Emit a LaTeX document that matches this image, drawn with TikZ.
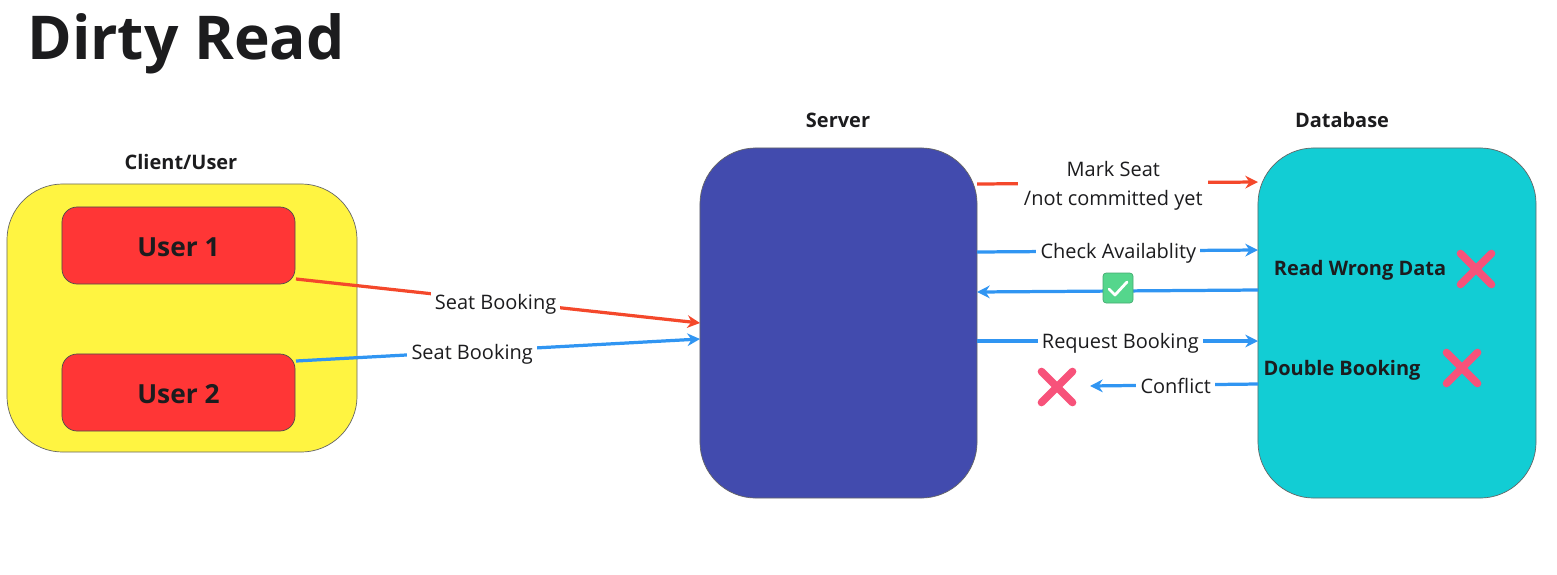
\documentclass[tikz,border=0pt]{standalone}
\usepackage{fontspec}
\setmainfont{Open Sans}
\usetikzlibrary{arrows.meta,shapes.misc}
\definecolor{inkgrey}{HTML}{1C1C1E}
\definecolor{clientyellow}{HTML}{FFF441}
\definecolor{userred}{HTML}{FF3636}
\definecolor{serverblue}{HTML}{424BAE}
\definecolor{dbcyan}{HTML}{12CDD4}
\definecolor{flowred}{HTML}{F4482B}
\definecolor{flowblue}{HTML}{3095F2}
\definecolor{crosspink}{HTML}{F7527A}
\definecolor{checkgreen}{HTML}{55D68C}

\begin{document}
\begin{tikzpicture}[x=0.025cm,y=-0.025cm]
        %
        % `bigbox' is used for the three main blocks, `userbox' for the users.
        % `flow' is used for the arrows, `flowlabel' breaks the arrow under its text.
        \tikzstyle{bigbox} = [draw=black!60,line width=0.5pt,rounded corners=1.4cm]
        \tikzstyle{userbox} = [draw=black!70,line width=0.5pt,fill=userred,text=inkgrey,rounded corners=0.38cm,minimum width=5.825cm,minimum height=1.925cm,text height=16pt,text depth=0pt,font=\fontsize{18.7}{22}\selectfont\bfseries]
        \tikzstyle{heading} = [text=inkgrey,font=\fontsize{14.2}{18}\selectfont\bfseries]
        \tikzstyle{flow} = [line width=2.3pt,-{Stealth[length=9pt,width=9pt]}]
        \tikzstyle{flowlabel} = [fill=white,text=inkgrey,inner sep=3pt,font=\fontsize{14.2}{20}\selectfont,align=center]
        \tikzstyle{crossnode} = [cross out,draw=crosspink,line width=5.5pt,line cap=round,minimum size=0.58cm,inner sep=0pt]
        \useasboundingbox (0,0) rectangle (1557,574);
        %
        % Title
        \node[anchor=west,inner sep=0pt,text=inkgrey,font=\fontsize{43}{50}\selectfont\bfseries] (title) at (27,44) {Dirty Read};
        %
        % Client
        \node[bigbox,fill=clientyellow,minimum width=8.75cm,minimum height=6.7cm] (client) at (182,318) {};
        \node[heading] (clientlabel) at (181,162) {Client/User};
        \node[userbox] (user1) at (178.5,245.5) {User 1};
        \node[userbox] (user2) at (178.5,392.5) {User 2};
        %
        % Server
        \node[bigbox,fill=serverblue,minimum width=6.925cm,minimum height=8.75cm] (server) at (838.5,323) {};
        \node[heading] (serverlabel) at (838,120) {Server};
        %
        % Database
        \node[bigbox,fill=dbcyan,minimum width=6.95cm,minimum height=8.75cm] (database) at (1397,323) {};
        \node[heading] (databaselabel) at (1342,120) {Database};
        \node[heading] (wrongdata) at (1360,270) {Read Wrong Data};
        \node[heading] (doublebooking) at (1342,370) {Double Booking};
        %
        % Marks
        \node[crossnode] (cross1) at (1476,269) {};
        \node[crossnode] (cross2) at (1462,368) {};
        \node[crossnode] (cross3) at (1057,387) {};
        %
        % Free ends of the arrows
        \coordinate (u1out) at (296,279);
        \coordinate (u2out) at (296,361);
        \coordinate (s1in) at (700,323);
        \coordinate (s2in) at (700,339);
        \coordinate (markout) at (977,184);
        \coordinate (markin) at (1258,182);
        \coordinate (checkout) at (977,252);
        \coordinate (checkin) at (1258,250);
        \coordinate (replyout) at (1258,290);
        \coordinate (replyin) at (977,292);
        \coordinate (requestout) at (977,341);
        \coordinate (requestin) at (1258,341);
        \coordinate (conflictout) at (1258,384);
        \coordinate (conflictin) at (1090,386);
        %
        % Client to server
        \draw[flow,flowred] (u1out) -- node[flowlabel,pos=0.494,yshift=-0.085cm] (seat1) {Seat Booking} (s1in);
        \draw[flow,flowblue] (u2out) -- node[flowlabel,pos=0.436,yshift=-0.075cm] (seat2) {Seat Booking} (s2in);
        %
        % Server and database
        \draw[flow,flowred] (markout) -- node[flowlabel,pos=0.485,inner xsep=4pt,yshift=-0.07cm] (mark) {Mark Seat\\/not committed yet} (markin);
        \draw[flow,flowblue] (checkout) -- node[flowlabel,pos=0.503,yshift=-0.06cm] (check) {Check Availablity} (checkin);
        \draw[flow,flowblue] (replyout) -- (replyin);
        \draw[flow,flowblue] (requestout) -- node[flowlabel,pos=0.51,yshift=-0.065cm] (request) {Request Booking} (requestin);
        \draw[flow,flowblue] (conflictout) -- node[flowlabel,pos=0.49,yshift=-0.025cm] (conflict) {Conflict} (conflictin);
        %
        % Green check on the reply
        \node[fill=checkgreen,draw=checkgreen!80!black,line width=0.5pt,rounded corners=0.08cm,minimum size=0.75cm,inner sep=0pt] (tick) at (1118,288) {};
        \draw[white,line width=2pt,line cap=round,line join=round,shift={(tick.center)}] (-9,1) -- (-3,7) -- (9,-6);
        %
\end{tikzpicture}
\end{document}
